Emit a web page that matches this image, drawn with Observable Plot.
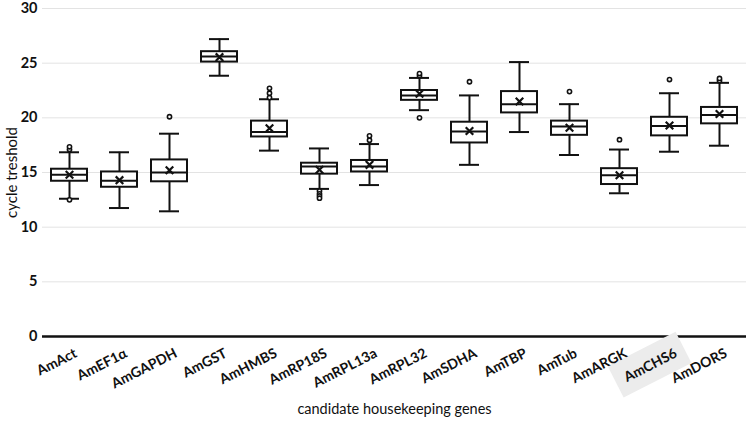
<!DOCTYPE html>
<html>
<head>
<meta charset="utf-8">
<script src="https://cdn.jsdelivr.net/npm/d3@7"></script>
<script src="https://cdn.jsdelivr.net/npm/@observablehq/plot@0.6"></script>
<style>
  html, body { margin: 0; padding: 0; background: #fff; }
  #chart { width: 749px; height: 424px; }
</style>
</head>
<body>
<div id="chart"></div>
<script>
const genes = ["AmAct","AmEF1α","AmGAPDH","AmGST","AmHMBS","AmRP18S","AmRPL13a","AmRPL32","AmSDHA","AmTBP","AmTub","AmARGK","AmCHS6","AmDORS"];
const q1 =          [14.2, 13.65, 14.15, 25.1, 18.25, 14.85, 15.05, 21.6, 17.7, 20.45, 18.4, 13.9, 18.35, 19.45];
const median =      [14.8, 14.25, 15.0, 25.6, 18.7, 15.55, 15.55, 22.05, 18.75, 21.25, 19.2, 14.75, 19.25, 20.25];
const q3 =          [15.3, 15.05, 16.15, 26.05, 19.7, 15.85, 16.1, 22.5, 19.6, 22.4, 19.7, 15.35, 20.05, 20.95];
const whiskerLow =  [12.6, 11.75, 11.45, 23.85, 17.0, 13.5, 13.85, 20.7, 15.7, 18.7, 16.6, 13.1, 16.9, 17.45];
const whiskerHigh = [16.85, 16.85, 18.55, 27.2, 21.7, 17.2, 17.6, 23.65, 22.05, 25.1, 21.25, 17.1, 22.25, 23.2];
const meanValue =   [14.8, 14.3, 15.2, 25.55, 19.05, 15.25, 15.7, 22.2, 18.8, 21.5, 19.1, 14.75, 19.3, 20.35];
const outlierGene =  ["AmAct","AmAct","AmAct","AmGAPDH","AmHMBS","AmHMBS","AmHMBS","AmRP18S","AmRP18S","AmRP18S","AmRP18S","AmRPL13a","AmRPL13a","AmRPL32","AmRPL32","AmRPL32","AmSDHA","AmTub","AmARGK","AmCHS6","AmDORS","AmDORS"];
const outlierValue = [17.1, 17.35, 12.5, 20.1, 21.85, 22.25, 22.7, 13.3, 13.05, 12.85, 12.65, 17.95, 18.35, 23.85, 24.05, 20.0, 23.3, 22.4, 18.0, 23.5, 23.4, 23.6];
const yTicks = [0, 5, 10, 15, 20, 25, 30];
const yTitle = "cycle treshold";
const xTitle = "candidate housekeeping genes";

const boxes = genes.map((g, i) => ({gene: g, q1: q1[i], median: median[i], q3: q3[i], lo: whiskerLow[i], hi: whiskerHigh[i], mean: meanValue[i]}));
const outliers = outlierGene.map((g, i) => ({gene: g, value: outlierValue[i]}));

const font = "Lato, 'Open Sans', sans-serif";

const chart = Plot.plot({
  width: 749,
  height: 424,
  marginTop: 8,
  marginLeft: 42,
  marginRight: 3,
  marginBottom: 88,
  style: {fontFamily: font, background: "#fff", color: "#111"},
  x: {domain: genes, padding: 0, label: null, axis: null},
  y: {domain: [0, 30], label: null, axis: null},
  marks: [
    Plot.gridY(yTicks, {stroke: "#e3e3e3", strokeOpacity: 1, strokeWidth: 1}),
    Plot.ruleX(boxes, {x: "gene", y1: "lo", y2: "q1", stroke: "#111", strokeWidth: 2}),
    Plot.ruleX(boxes, {x: "gene", y1: "q3", y2: "hi", stroke: "#111", strokeWidth: 2}),
    Plot.tickY(boxes, {x: "gene", y: "lo", stroke: "#111", strokeWidth: 2, insetLeft: 15, insetRight: 15}),
    Plot.tickY(boxes, {x: "gene", y: "hi", stroke: "#111", strokeWidth: 2, insetLeft: 15, insetRight: 15}),
    Plot.barY(boxes, {x: "gene", y1: "q1", y2: "q3", fill: "#fff", stroke: "#111", strokeWidth: 2, insetLeft: 7, insetRight: 7}),
    Plot.tickY(boxes, {x: "gene", y: "median", stroke: "#111", strokeWidth: 2, insetLeft: 7, insetRight: 7}),
    Plot.dot(boxes, {x: "gene", y: "mean", symbol: "times", r: 3.5, stroke: "#111", strokeWidth: 2.2}),
    Plot.dot(outliers, {x: "gene", y: "value", r: 2.1, fill: "#fff", stroke: "#111", strokeWidth: 1.6}),
    Plot.ruleY([0], {stroke: "#111", strokeWidth: 2.5}),
    Plot.axisY({ticks: yTicks, tickSize: 0, tickPadding: 5, line: true, stroke: "#111", strokeWidth: 2.5, fontSize: 14.5, fontWeight: "bold", label: null}),
    // rotated category labels under the axis
    Plot.text(genes, {x: d => d, frameAnchor: "bottom", dx: 4, dy: 11, rotate: -27, textAnchor: "end", lineAnchor: "top", fontSize: 14, fontWeight: "bold", fill: "#111"}),
    // axis titles
    Plot.text([yTitle], {frameAnchor: "left", dx: -30, rotate: -90, textAnchor: "middle", fontSize: 15, fill: "#111"}),
    Plot.text([xTitle], {frameAnchor: "bottom", dy: 77, textAnchor: "middle", fontSize: 14.5, fill: "#111"})
  ]
});

document.getElementById("chart").appendChild(chart);

// light grey highlight behind AmCHS6 label, as in the reference
d3.select(chart).selectAll("text").each(function() {
  if (this.textContent === "AmCHS6") {
    const bb = this.getBBox();
    const pad = 9;
    const parent = this.parentNode;
    d3.select(parent).insert("rect", () => parent.firstChild)
      .attr("x", bb.x - pad).attr("y", bb.y - pad)
      .attr("width", bb.width + 2 * pad).attr("height", bb.height + 2 * pad)
      .attr("transform", this.getAttribute("transform"))
      .attr("fill", "#ececec").attr("stroke", "none");
  }
});
</script>
</body>
</html>
